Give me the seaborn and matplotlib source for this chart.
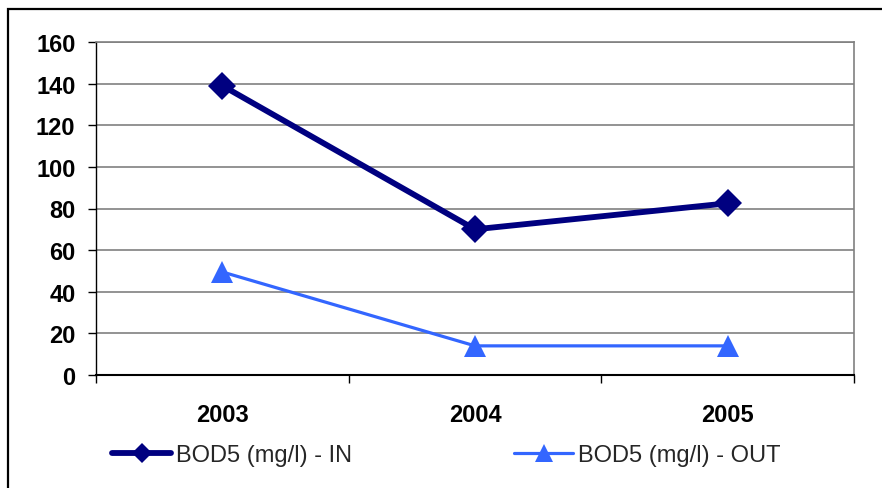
import matplotlib
matplotlib.use("Agg")
import matplotlib.pyplot as plt
import seaborn as sns
import pandas as pd
from matplotlib.patches import Rectangle
from matplotlib.ticker import FixedLocator

years = ["2003", "2004", "2005"]
bod_in = [139, 70, 82.5]
bod_out = [49.5, 14, 14]
label_in = "BOD5 (mg/l) - IN"
label_out = "BOD5 (mg/l) - OUT"
yticks = [0, 20, 40, 60, 80, 100, 120, 140, 160]

sns.set_theme(style="white")
plt.rcParams['font.family'] = ['Liberation Sans', 'DejaVu Sans']

W, H = 882, 489
FS = 17
fig = plt.figure(figsize=(W / 100, H / 100), dpi=100)
ax = fig.add_axes([96 / W, 1 - 376 / H, (854 - 96) / W, (376 - 43) / H])

df_in = pd.DataFrame({"year": years, "value": bod_in})
df_out = pd.DataFrame({"year": years, "value": bod_out})

sns.lineplot(data=df_in, x="year", y="value", ax=ax, color="#000080",
             linewidth=4.2, marker="D", markersize=14.5, markeredgewidth=0,
             label=label_in, legend=False, zorder=4)
sns.lineplot(data=df_out, x="year", y="value", ax=ax, color="#3366FF",
             linewidth=2.3, marker="^", markersize=15.5, markeredgewidth=0,
             label=label_out, legend=False, zorder=3)

ax.set_xlim(-0.5, 2.5)
ax.set_ylim(0, 160)
ax.set_yticks(yticks)
ax.set_yticklabels([str(v) for v in yticks])
ax.set_xticks(range(len(years)))
ax.set_xticklabels(years)
ax.xaxis.set_minor_locator(FixedLocator([-0.5, 0.5, 1.5, 2.5]))
ax.set_xlabel("")
ax.set_ylabel("")

ax.yaxis.grid(True, color="#808080", linewidth=1.2)
ax.xaxis.grid(False)
ax.set_axisbelow(True)

for side in ["left", "bottom"]:
    ax.spines[side].set_color("black")
    ax.spines[side].set_linewidth(1.0)
for side in ["top", "right"]:
    ax.spines[side].set_visible(True)
    ax.spines[side].set_color("#808080")
    ax.spines[side].set_linewidth(1.2)
ax.spines["bottom"].set_linewidth(1.5)

ax.tick_params(axis="y", which="major", left=True, length=5.8, width=1,
               color="black", pad=9, labelsize=FS)
ax.tick_params(axis="x", which="major", bottom=True, length=0, pad=20,
               labelsize=FS)
ax.tick_params(axis="x", which="minor", bottom=True, length=5.5, width=1,
               color="black")
for lab in ax.get_xticklabels() + ax.get_yticklabels():
    lab.set_fontweight("bold")
    lab.set_color("black")

lines = ax.get_lines()
h_in = [l for l in lines if l.get_label() == label_in][0]
h_out = [l for l in lines if l.get_label() == label_out][0]

leg1 = fig.legend([h_in], [label_in], loc="center left",
                  bbox_to_anchor=(112 / W, 1 - 456 / H), frameon=False,
                  fontsize=FS, handlelength=2.5, handletextpad=0.2,
                  borderpad=0, borderaxespad=0, markerscale=0.7)
leg2 = fig.legend([h_out], [label_out], loc="center left",
                  bbox_to_anchor=(514 / W, 1 - 456 / H), frameon=False,
                  fontsize=FS, handlelength=2.5, handletextpad=0.2,
                  borderpad=0, borderaxespad=0, markerscale=0.85)

fig.patches.append(Rectangle((8 / W, -0.05), 1.0, 1 - 10 / H + 0.05,
                             transform=fig.transFigure, fill=False,
                             edgecolor="black", linewidth=1.6))

fig.savefig("out.png", dpi=100, facecolor="white")
